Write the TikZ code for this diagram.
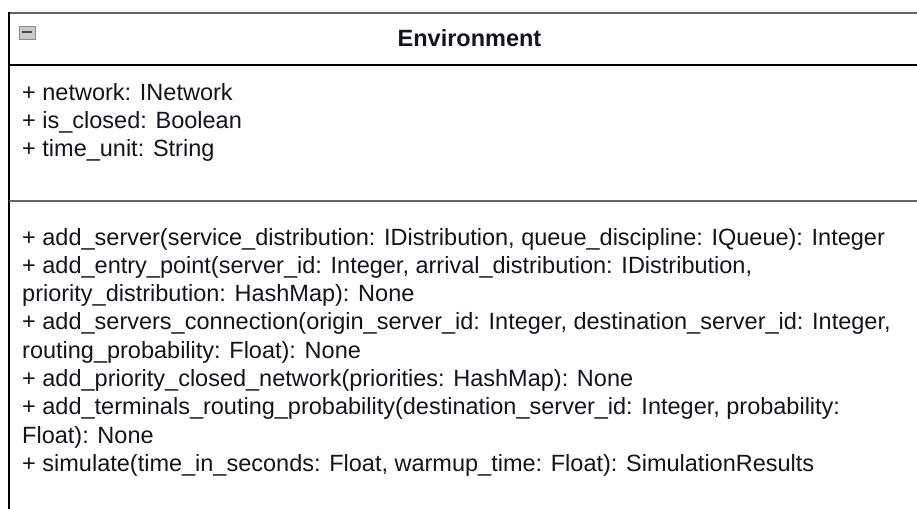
\documentclass[tikz,border=0pt]{standalone}
\usepackage{fontspec}
\setmainfont{Liberation Sans}
\definecolor{inkc}{RGB}{20,20,30}
\definecolor{framegray}{RGB}{100,100,100}
\definecolor{iconfill}{RGB}{200,200,205}
\definecolor{iconedge}{RGB}{140,140,145}
\begin{document}
\begin{tikzpicture}[x=1pt,y=-1pt,
  member/.style={anchor=base west, inner sep=0pt, text=inkc,
    font=\fontsize{23.5}{28}\selectfont},
  classname/.style={anchor=base, inner sep=0pt, text=inkc,
    font=\bfseries\fontsize{23.5}{28}\selectfont},
  border/.style={line width=2pt, draw=black},
  grayborder/.style={line width=2.4pt, draw=framegray}]
  \useasboundingbox (0,0) rectangle (917,508);
  \clip (0,0) rectangle (917,508);
  \fill[white] (0,0) rectangle (917,508);

  % class frame
  \draw[grayborder] (9,13) -- (935,13);
  \draw[border] (9,12) -- (9,520);
  \draw[border] (9,65) -- (935,65);
  \draw[grayborder, line width=2pt] (9,201) -- (935,201);

  % collapse icon
  \filldraw[fill=iconfill, draw=iconedge, line width=0.8pt] (19,26) rectangle (35,39);
  \draw[line width=2pt, draw=black!70] (22,32.5) -- (32,32.5);

  % class name
  \node[classname] (title) at (469.5,47) {Environment};

  % attributes
  \node[member] (a1) at (22,100) {+ network: INetwork};
  \node[member] (a2) at (22,128.3) {+ is\_closed: Boolean};
  \node[member] (a3) at (22,156.6) {+ time\_unit: String};

  % operations
  \node[member] (m1) at (22,245) {+ add\_server(service\_distribution: IDistribution, queue\_discipline: IQueue): Integer};
  \node[member] (m2) at (22,273.3) {+ add\_entry\_point(server\_id: Integer, arrival\_distribution: IDistribution,};
  \node[member] (m3) at (22,301.6) {priority\_distribution: HashMap): None};
  \node[member] (m4) at (22,329.9) {+ add\_servers\_connection(origin\_server\_id: Integer, destination\_server\_id: Integer,};
  \node[member] (m5) at (22,358.2) {routing\_probability: Float): None};
  \node[member] (m6) at (22,386.5) {+ add\_priority\_closed\_network(priorities: HashMap): None};
  \node[member] (m7) at (22,414.8) {+ add\_terminals\_routing\_probability(destination\_server\_id: Integer, probability:};
  \node[member] (m8) at (22,443.1) {Float): None};
  \node[member] (m9) at (22,471.4) {+ simulate(time\_in\_seconds: Float, warmup\_time: Float): SimulationResults};
\end{tikzpicture}
\end{document}
